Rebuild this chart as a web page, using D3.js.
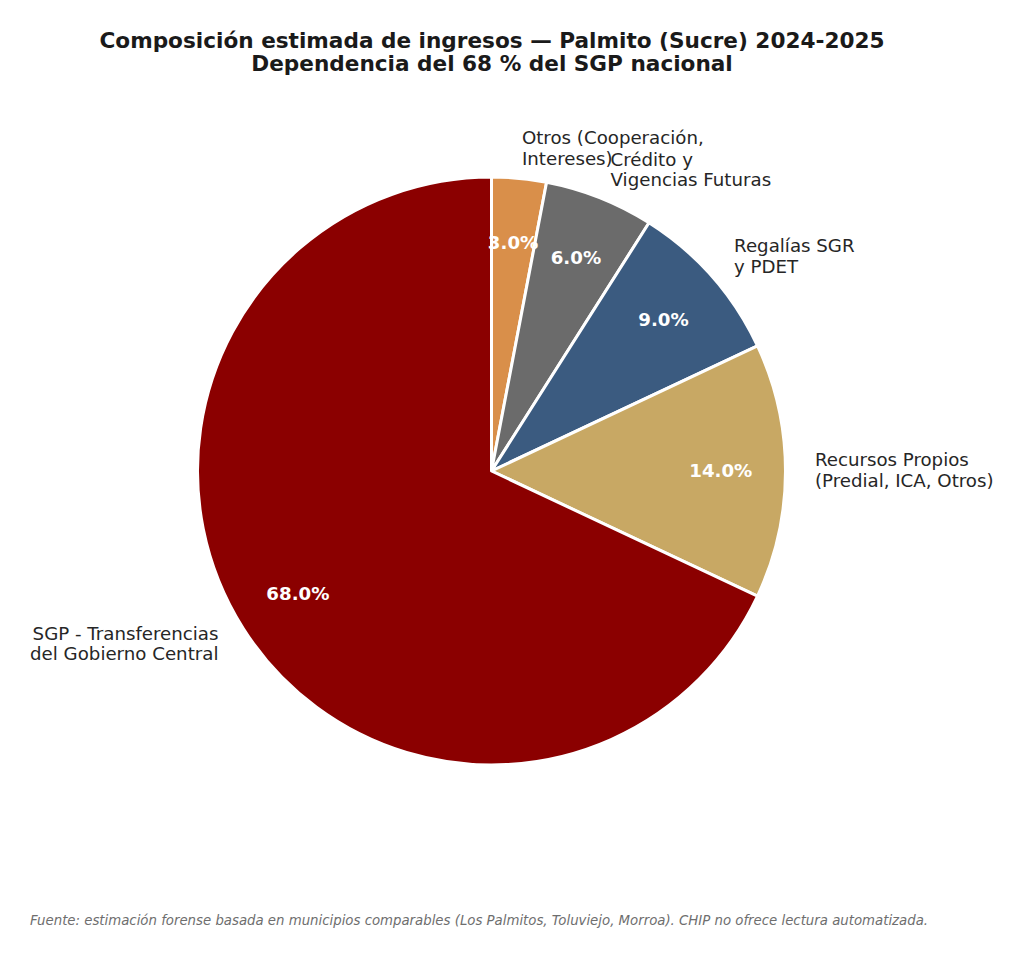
<!DOCTYPE html>
<html><head><meta charset="utf-8">
<script src="https://cdn.jsdelivr.net/npm/d3@7"></script>
<style>body{margin:0;background:#fff;} svg{display:block;}</style>
</head><body>
<svg id="c" width="1024" height="957"></svg>
<script>
const categories = ["Otros (Cooperación,\nIntereses)", "Crédito y\nVigencias Futuras", "Regalías SGR\ny PDET", "Recursos Propios\n(Predial, ICA, Otros)", "SGP - Transferencias\ndel Gobierno Central"];
const values = [3, 6, 9, 14, 68];
const colors = ["#D98F4A", "#6B6B6B", "#3B5B80", "#C8A864", "#8B0000"];
const titleLines = ["Composición estimada de ingresos — Palmito (Sucre) 2024-2025", "Dependencia del 68 % del SGP nacional"];
const footnote = "Fuente: estimación forense basada en municipios comparables (Los Palmitos, Toluviejo, Morroa). CHIP no ofrece lectura automatizada.";

const svg = d3.select("#c");
const cx = 491.5, cy = 471, R = 294;
const font = "DejaVu Sans, sans-serif";

svg.append("text").attr("font-family", font).attr("font-weight", "bold")
  .attr("font-size", 21.6).attr("fill", "#1a1a1a").attr("text-anchor", "middle")
  .selectAll("tspan").data(titleLines).join("tspan")
  .attr("x", 492).attr("y", (d, i) => 48 + i * 23.3).text(d => d);

const pie = d3.pie().sort(null).startAngle(0).endAngle(2 * Math.PI).value(d => d);
const arcs = pie(values);
const arc = d3.arc().innerRadius(0).outerRadius(R);
const g = svg.append("g").attr("transform", `translate(${cx},${cy})`);

g.selectAll("path").data(arcs).join("path")
  .attr("d", arc).attr("fill", (d, i) => colors[i])
  .attr("stroke", "#fff").attr("stroke-width", 3).attr("stroke-linejoin", "round");

const total = d3.sum(values);
const fs = 18.2, lh = 20.5;
arcs.forEach((a, i) => {
  const m = (a.startAngle + a.endAngle) / 2;
  const sx = Math.sin(m), sy = -Math.cos(m);
  g.append("text").attr("x", sx * R * 0.78).attr("y", sy * R * 0.78 + 6.3)
    .attr("font-family", font).attr("font-weight", "bold").attr("font-size", 18.2)
    .attr("fill", "#fff").attr("text-anchor", "middle")
    .text((values[i] / total * 100).toFixed(1) + "%");
  const lines = categories[i].split("\n");
  const lx = sx * R * 1.1, ly = sy * R * 1.1;
  const t = g.append("text").attr("font-family", font).attr("font-size", fs)
    .attr("fill", "#262626").attr("text-anchor", sx >= 0 ? "start" : "end");
  lines.forEach((ln, k) => {
    t.append("tspan").attr("x", lx).attr("y", ly + (k - (lines.length - 1) / 2) * lh + 5.5)
      .text(ln);
  });
});

svg.append("text").attr("x", 30).attr("y", 925).attr("font-family", font)
  .attr("font-style", "italic").attr("font-size", 13.3).attr("fill", "#6e6e6e").text(footnote);
</script>
</body></html>
